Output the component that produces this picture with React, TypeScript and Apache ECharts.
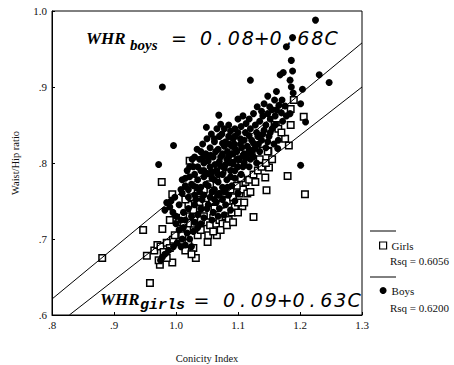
import React, { useEffect, useRef } from "react";
import * as echarts from "echarts";

// ---- data ----
const xTickLabels = [".8", ".9", "1.0", "1.1", "1.2", "1.3"];
const yTickLabels = [".6", ".7", ".8", ".9", "1.0"];

const seriesNames = ["Girls", "Boys"];
const rsqTexts = ["Rsq = 0.6056", "Rsq = 0.6200"];

const boysFit: [number, number][] = [[0.8, 0.621], [1.3, 0.958]];
const girlsFit: [number, number][] = [[0.828, 0.6], [1.3, 0.9]];

const boys: [number, number][] = [
  [1.225, 0.988], [1.188, 0.965], [1.178, 0.953], [1.186, 0.935], [1.188, 0.921], [1.173, 0.919],
  [1.168, 0.916], [1.231, 0.916], [1.247, 0.906], [1.12, 0.909], [0.978, 0.9], [1.204, 0.897],
  [1.162, 0.894], [1.148, 0.888], [1.184, 0.909], [1.186, 0.9], [1.159, 0.883], [1.171, 0.883],
  [1.189, 0.892], [1.201, 0.878], [1.151, 0.874], [1.131, 0.874], [1.162, 0.87], [1.184, 0.865],
  [1.209, 0.854], [1.069, 0.863], [1.049, 0.847], [0.996, 0.823], [0.972, 0.798], [1.201, 0.797],
  [1.164, 0.819],
  [1.14, 0.862], [1.135, 0.855], [1.128, 0.85], [1.145, 0.85], [1.152, 0.858], [1.16, 0.862],
  [1.17, 0.866], [1.176, 0.875], [1.12, 0.845], [1.113, 0.852], [1.105, 0.848], [1.1, 0.84],
  [1.118, 0.836], [1.13, 0.84], [1.142, 0.843], [1.155, 0.845], [1.165, 0.83], [1.158, 0.825],
  [1.15, 0.835], [1.138, 0.83], [1.125, 0.826], [1.11, 0.83], [1.095, 0.835], [1.085, 0.85],
  [1.078, 0.845], [1.09, 0.822], [1.098, 0.815], [1.106, 0.82], [1.115, 0.812], [1.125, 0.808],
  [1.135, 0.815], [1.145, 0.82],
  [1.07, 0.835], [1.062, 0.828], [1.055, 0.82], [1.068, 0.818], [1.08, 0.828], [1.075, 0.812],
  [1.085, 0.808], [1.092, 0.8], [1.08, 0.798], [1.07, 0.802], [1.06, 0.808], [1.05, 0.81],
  [1.045, 0.8], [1.055, 0.795], [1.065, 0.79], [1.075, 0.785], [1.088, 0.79], [1.1, 0.795],
  [1.11, 0.8], [1.118, 0.795], [1.04, 0.79], [1.03, 0.785], [1.022, 0.782], [1.035, 0.778],
  [1.045, 0.782], [1.058, 0.78], [1.068, 0.775], [1.082, 0.778], [1.095, 0.78], [1.105, 0.785],
  [1.025, 0.772], [1.015, 0.77], [1.04, 0.768], [1.052, 0.77], [1.062, 0.765], [1.075, 0.768],
  [1.09, 0.77], [1.048, 0.812], [1.038, 0.805], [1.028, 0.795], [1.018, 0.79], [1.078, 0.822],
  [1.092, 0.812], [1.102, 0.805], [1.115, 0.822], [1.057, 0.838], [1.066, 0.845], [1.088, 0.842],
  [1.1, 0.858], [1.072, 0.851],
  [1.035, 0.795], [1.045, 0.79], [1.052, 0.803], [1.063, 0.798], [1.072, 0.808], [1.083, 0.815],
  [1.094, 0.825], [1.104, 0.832], [1.112, 0.84], [1.122, 0.83], [1.132, 0.835], [1.14, 0.838],
  [1.148, 0.828], [1.128, 0.82], [1.118, 0.818], [1.108, 0.81], [1.098, 0.805], [1.088, 0.8],
  [1.078, 0.793], [1.068, 0.785], [1.058, 0.788], [1.048, 0.772], [1.058, 0.762], [1.068, 0.758],
  [1.078, 0.762], [1.088, 0.782], [1.095, 0.79], [1.108, 0.795], [1.12, 0.805], [1.13, 0.8],
  [1.028, 0.77], [1.02, 0.765], [1.032, 0.752], [1.045, 0.758], [1.038, 0.762], [1.062, 0.832],
  [1.074, 0.838], [1.085, 0.835], [1.095, 0.845], [1.108, 0.862], [1.118, 0.858], [1.125, 0.865],
  [1.138, 0.868], [1.148, 0.865], [1.155, 0.87], [1.166, 0.876], [1.142, 0.878], [1.05, 0.832],
  [1.04, 0.815], [1.03, 0.808], [1.022, 0.795], [1.015, 0.78], [1.008, 0.765], [0.998, 0.755],
  [0.992, 0.75], [1.083, 0.768], [1.11, 0.812], [1.16, 0.85], [1.172, 0.855], [1.178, 0.862],
  [1.07, 0.76], [1.052, 0.745], [1.062, 0.752],
  [1.026, 0.805], [1.034, 0.818], [1.043, 0.825], [1.056, 0.81], [1.064, 0.815], [1.075, 0.826],
  [1.086, 0.825], [1.096, 0.818], [1.104, 0.825], [1.092, 0.832], [1.082, 0.805], [1.052, 0.786],
  [1.062, 0.778], [1.072, 0.796], [1.112, 0.806], [1.122, 0.815], [1.133, 0.825], [1.152, 0.84],
  [1.01, 0.778], [1.033, 0.768], [1.044, 0.808],
  [1.01, 0.76], [1.02, 0.755], [1.03, 0.758], [1.042, 0.752], [1.055, 0.755], [1.065, 0.748],
  [1.075, 0.752], [1.085, 0.758], [1.05, 0.74], [1.06, 0.735], [1.07, 0.74], [1.08, 0.745],
  [1.04, 0.74], [1.03, 0.745], [1.02, 0.74], [1.005, 0.745], [1.012, 0.735], [1.025, 0.73],
  [1.035, 0.732], [1.045, 0.728], [1.058, 0.725], [1.068, 0.73], [1.078, 0.732], [1.088, 0.738],
  [1.095, 0.75], [1.1, 0.76],
  [0.985, 0.748], [0.99, 0.742], [0.982, 0.738], [0.995, 0.735], [1.0, 0.73], [1.008, 0.725],
  [1.0, 0.72], [1.005, 0.712], [1.012, 0.715], [1.018, 0.708], [1.01, 0.7], [1.002, 0.695],
  [1.008, 0.69], [1.015, 0.692], [1.022, 0.7], [1.028, 0.71], [1.035, 0.715], [0.996, 0.69],
  [1.015, 0.725], [0.975, 0.672], [0.978, 0.676], [0.982, 0.68], [0.988, 0.685], [1.03, 0.722],
  [1.04, 0.72], [1.025, 0.69],
];

const girls: [number, number][] = [
  [0.881, 0.675], [0.947, 0.712], [0.958, 0.642], [0.978, 0.713], [0.977, 0.775], [1.022, 0.803],
  [0.994, 0.759], [0.994, 0.669], [0.974, 0.666], [0.953, 0.678], [0.995, 0.699], [1.032, 0.675],
  [1.051, 0.696], [1.066, 0.705], [1.107, 0.743], [1.125, 0.729], [1.146, 0.764], [1.144, 0.781],
  [1.18, 0.783], [1.208, 0.759], [1.15, 0.794], [1.176, 0.832], [1.182, 0.823], [1.161, 0.85],
  [1.185, 0.871], [1.206, 0.861], [1.19, 0.883], [1.149, 0.816], [1.159, 0.85], [1.148, 0.815],
  [0.965, 0.685], [0.97, 0.692], [0.975, 0.69], [0.985, 0.695], [0.98, 0.683], [0.99, 0.688],
  [0.972, 0.672], [0.985, 0.675], [1.0, 0.728], [1.005, 0.722], [1.012, 0.718], [1.018, 0.712],
  [1.01, 0.705], [1.02, 0.695], [1.028, 0.688], [1.015, 0.685], [1.025, 0.68], [1.035, 0.705],
  [1.04, 0.712], [0.99, 0.725], [0.998, 0.705], [1.022, 0.73], [1.03, 0.72],
  [1.045, 0.73], [1.05, 0.722], [1.055, 0.718], [1.06, 0.728], [1.065, 0.72], [1.07, 0.725],
  [1.075, 0.72], [1.08, 0.73], [1.085, 0.725], [1.09, 0.735], [1.095, 0.742], [1.1, 0.748],
  [1.062, 0.74], [1.072, 0.745], [1.082, 0.75], [1.092, 0.755], [1.102, 0.76], [1.108, 0.765],
  [1.115, 0.76], [1.12, 0.762], [1.112, 0.775], [1.118, 0.778], [1.125, 0.785], [1.128, 0.775],
  [1.132, 0.79], [1.138, 0.795], [1.098, 0.77], [1.105, 0.78], [1.088, 0.765], [1.078, 0.76],
  [1.068, 0.755], [1.058, 0.75], [1.048, 0.745], [1.038, 0.74], [1.028, 0.738], [1.02, 0.745],
  [1.015, 0.752], [1.025, 0.755], [1.035, 0.76], [1.045, 0.765], [1.055, 0.772], [1.065, 0.78],
  [1.075, 0.79], [1.085, 0.795], [1.095, 0.8], [1.105, 0.805], [1.115, 0.81], [1.122, 0.815],
  [1.13, 0.82], [1.14, 0.825], [1.135, 0.805], [1.145, 0.8], [1.155, 0.805], [1.1, 0.735],
  [1.11, 0.748], [1.04, 0.725], [1.052, 0.705], [1.06, 0.71], [1.072, 0.712], [1.082, 0.718],
  [1.092, 0.722], [1.165, 0.845], [1.17, 0.84], [1.185, 0.85],
];

const SERIF = '"Liberation Serif", "Times New Roman", serif';
const SANS = '"DejaVu Sans", sans-serif';
const MONO = '"Liberation Mono", "DejaVu Sans Mono", monospace';

function spacedChars(str: string, cx0: number, cy: number, step: number, fontSize: number) {
  return str.split("").map((ch, i) => ({
    type: "text",
    x: cx0 + i * step,
    y: cy,
    silent: true,
    style: {
      text: ch,
      fontFamily: SANS,
      fontStyle: "italic",
      fontSize,
      fill: "#000",
      align: "center",
      verticalAlign: "middle",
    },
  }));
}

function equation(
  sub: string,
  subFont: string,
  subSize: number,
  whrX: number,
  whrY: number,
  subX: number,
  subY: number,
  eqX: number,
  rhs: string,
  rhsX: number,
  rhsY: number
) {
  return [
    {
      type: "text",
      x: whrX,
      y: whrY,
      silent: true,
      style: {
        text: "WHR",
        fontFamily: SERIF,
        fontStyle: "italic",
        fontWeight: "bold",
        fontSize: 17,
        fill: "#000",
        align: "left",
        verticalAlign: "middle",
      },
    },
    {
      type: "text",
      x: subX,
      y: subY,
      silent: true,
      style: {
        text: sub,
        fontFamily: subFont,
        fontStyle: "italic",
        fontWeight: "bold",
        fontSize: subSize,
        fill: "#000",
        align: "left",
        verticalAlign: "middle",
      },
    },
    ...spacedChars("=", eqX, rhsY, 14, 19),
    ...spacedChars(rhs, rhsX, rhsY, 13.9, 19),
  ];
}

export default function App() {
  const ref = useRef<HTMLDivElement>(null);

  useEffect(() => {
    if (!ref.current) return;
    const chart = echarts.init(ref.current, undefined, { renderer: "svg" });

    const labelStyle = { color: "#111", fontFamily: SERIF, fontSize: 11 };

    const option: any = {
      animation: false,
      backgroundColor: "#fff",
      grid: {
        left: 52,
        top: 11,
        right: 92,
        bottom: 50,
        show: true,
        borderColor: "#000",
        borderWidth: 1,
        outerBoundsMode: "none",
      },
      xAxis: {
        type: "value",
        min: 0.8,
        max: 1.3,
        interval: 0.1,
        name: "Conicity Index",
        nameLocation: "middle",
        nameGap: 38,
        nameTextStyle: { color: "#111", fontFamily: SERIF, fontSize: 10.5 },
        axisLine: { show: true, lineStyle: { color: "#000", width: 1 } },
        axisTick: { show: true, inside: true, length: 3, lineStyle: { color: "#000" } },
        splitLine: { show: false },
        axisLabel: {
          ...labelStyle,
          margin: 4,
          formatter: (v: number) => xTickLabels[Math.round((v - 0.8) / 0.1)] ?? "",
        },
      },
      yAxis: {
        type: "value",
        min: 0.6,
        max: 1.0,
        interval: 0.1,
        name: "Waist/Hip ratio",
        nameLocation: "middle",
        nameGap: 31,
        nameRotate: 90,
        nameTextStyle: { color: "#111", fontFamily: SERIF, fontSize: 10.5 },
        axisLine: { show: true, lineStyle: { color: "#000", width: 1 } },
        axisTick: { show: true, inside: true, length: 3, lineStyle: { color: "#000" } },
        splitLine: { show: false },
        axisLabel: {
          ...labelStyle,
          margin: 5,
          formatter: (v: number) => yTickLabels[Math.round((v - 0.6) / 0.1)] ?? "",
        },
      },
      legend: {
        orient: "vertical",
        left: 374,
        top: 235,
        itemWidth: 7,
        itemHeight: 7,
        itemGap: 34,
        textStyle: { color: "#111", fontFamily: SERIF, fontSize: 11 },
        data: [
          { name: seriesNames[0], icon: "rect", itemStyle: { color: "#fff", borderColor: "#000", borderWidth: 1.2, opacity: 1 } },
          { name: seriesNames[1], icon: "circle", itemStyle: { color: "#000", opacity: 1 } },
        ],
      },
      series: [
        {
          type: "line",
          name: "Boys fit",
          data: boysFit,
          symbol: "none",
          silent: true,
          lineStyle: { color: "#000", width: 1 },
        },
        {
          type: "line",
          name: "Girls fit",
          data: girlsFit,
          symbol: "none",
          silent: true,
          lineStyle: { color: "#000", width: 1 },
        },
        {
          type: "scatter",
          name: seriesNames[0],
          data: girls,
          symbol: "rect",
          symbolSize: 6.5,
          itemStyle: { color: "#fff", borderColor: "#000", borderWidth: 1.5, opacity: 1 },
        },
        {
          type: "scatter",
          name: seriesNames[1],
          data: boys,
          symbol: "circle",
          symbolSize: 7,
          itemStyle: { color: "#000", opacity: 1 },
        },
      ],
      graphic: [
        { type: "line", silent: true, shape: { x1: 370, y1: 231, x2: 396, y2: 231 }, style: { stroke: "#000", lineWidth: 1 } },
        { type: "line", silent: true, shape: { x1: 370, y1: 277, x2: 396, y2: 277 }, style: { stroke: "#000", lineWidth: 1 } },
        {
          type: "text",
          x: 390,
          y: 261,
          silent: true,
          style: { text: rsqTexts[0], fontFamily: SERIF, fontSize: 11, fill: "#111", align: "left", verticalAlign: "middle" },
        },
        {
          type: "text",
          x: 390,
          y: 308,
          silent: true,
          style: { text: rsqTexts[1], fontFamily: SERIF, fontSize: 11, fill: "#111", align: "left", verticalAlign: "middle" },
        },
        ...equation("boys", SERIF, 15, 86, 38.5, 130, 45, 179, "0.08+0.68C", 206, 38),
        ...equation("girls", MONO, 15, 100, 299, 140, 305, 201.5, "0.09+0.63C", 229, 299.5),
      ],
    };

    chart.setOption(option);
    return () => chart.dispose();
  }, []);

  return (
    <div
      ref={ref}
      style={{ position: "absolute", left: 0, top: 0, width: 454, height: 365, background: "#fff" }}
    />
  );
}
